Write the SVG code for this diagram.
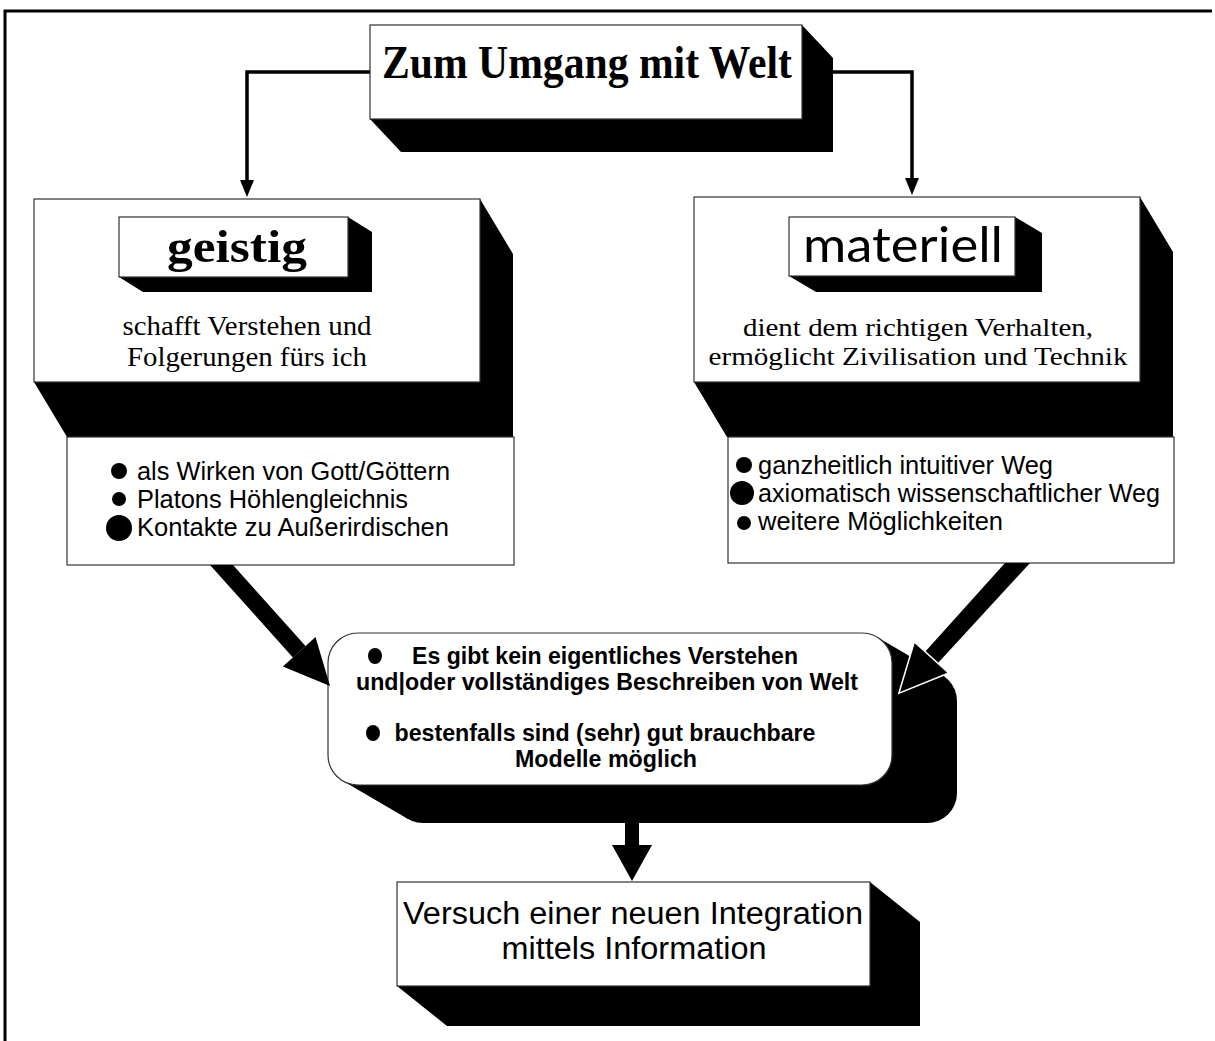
<svg xmlns="http://www.w3.org/2000/svg" width="1215" height="1041" viewBox="0 0 1215 1041">
<style>
.box{fill:#fff;stroke:#333;stroke-width:1.2}
.sh{fill:#000}
.serif{font-family:"Liberation Serif","Times New Roman",serif;fill:#000}
.sans{font-family:"Liberation Sans",Arial,sans-serif;fill:#000}
.bold{font-weight:bold}
.line{fill:none;stroke:#000;stroke-width:3.5}
.arr{fill:#000}
</style>
<rect width="1215" height="1041" fill="#fff"/>
<g id="frame">
<path d="M5 1041 V11 H1212" fill="none" stroke="#000" stroke-width="3"/>
</g>
<g id="title">
<polygon class="sh" points="802,25 833,58 833,152 401,152 370,119"/>
<rect class="box" x="370" y="25" width="432" height="94"/>
<text class="serif bold" x="382" y="78" font-size="46" textLength="410" lengthAdjust="spacingAndGlyphs">Zum Umgang mit Welt</text>
</g>
<g id="geistig">
<polygon class="sh" points="480,199 513,254 513,437 67,437 34,382"/>
<rect class="box" x="34" y="199" width="446" height="183"/>
<polygon class="sh" points="348,217 372,232 372,292 143,292 119,277"/>
<rect class="box" x="119" y="217" width="229" height="60"/>
<text class="serif bold" x="237" y="262" font-size="46" text-anchor="middle" textLength="140" lengthAdjust="spacingAndGlyphs">geistig</text>
<text class="serif" x="247" y="335" font-size="27" text-anchor="middle" textLength="249" lengthAdjust="spacingAndGlyphs">schafft Verstehen und</text>
<text class="serif" x="247" y="366" font-size="27" text-anchor="middle" textLength="240" lengthAdjust="spacingAndGlyphs">Folgerungen fürs ich</text>
</g>
<g id="geistig-list">
<rect class="box" x="67" y="437" width="447" height="128"/>
<circle cx="119" cy="471" r="8"/>
<circle cx="119" cy="499" r="7"/>
<circle cx="119" cy="528" r="13"/>
<text class="sans" x="137" y="480" font-size="25" textLength="313" lengthAdjust="spacingAndGlyphs">als Wirken von Gott/Göttern</text>
<text class="sans" x="137" y="508" font-size="25" textLength="271" lengthAdjust="spacingAndGlyphs">Platons Höhlengleichnis</text>
<text class="sans" x="137" y="536" font-size="25" textLength="312" lengthAdjust="spacingAndGlyphs">Kontakte zu Außerirdischen</text>
</g>
<g id="materiell">
<polygon class="sh" points="1140,197 1173,252 1173,437 727,437 694,382"/>
<rect class="box" x="694" y="197" width="446" height="185"/>
<polygon class="sh" points="1015,217 1042,233 1042,292 816,292 789,276"/>
<rect class="box" x="789" y="217" width="226" height="59"/>
<text x="903" y="262" font-family="Lato,'Liberation Sans',sans-serif" font-size="48" text-anchor="middle" textLength="200" lengthAdjust="spacingAndGlyphs">materiell</text>
<text class="serif" x="918" y="336" font-size="26" text-anchor="middle" textLength="350" lengthAdjust="spacingAndGlyphs">dient dem richtigen Verhalten,</text>
<text class="serif" x="918" y="365" font-size="26" text-anchor="middle" textLength="419" lengthAdjust="spacingAndGlyphs">ermöglicht Zivilisation und Technik</text>
</g>
<g id="materiell-list">
<rect class="box" x="728" y="437" width="446" height="126"/>
<circle cx="744" cy="465" r="8"/>
<circle cx="742" cy="493" r="12"/>
<circle cx="744" cy="523" r="7"/>
<text class="sans" x="758" y="474" font-size="25" textLength="295" lengthAdjust="spacingAndGlyphs">ganzheitlich intuitiver Weg</text>
<text class="sans" x="758" y="502" font-size="25" textLength="402" lengthAdjust="spacingAndGlyphs">axiomatisch wissenschaftlicher Weg</text>
<text class="sans" x="758" y="530" font-size="25" textLength="245" lengthAdjust="spacingAndGlyphs">weitere Möglichkeiten</text>
</g>
<g id="fazit">
<rect class="sh" x="393" y="671" width="564" height="152" rx="30"/>
<polygon class="sh" points="877,637 942,675 408,819 343,781"/>
<rect class="box" x="328" y="633" width="564" height="152" rx="30"/>
<ellipse cx="375" cy="656" rx="7" ry="8"/>
<ellipse cx="373" cy="733" rx="7" ry="8"/>
<text class="sans bold" x="605" y="664" font-size="23" text-anchor="middle" textLength="386" lengthAdjust="spacingAndGlyphs">Es gibt kein eigentliches Verstehen</text>
<text class="sans bold" x="607" y="690" font-size="23" text-anchor="middle" textLength="502" lengthAdjust="spacingAndGlyphs">und|oder vollständiges Beschreiben von Welt</text>
<text class="sans bold" x="605" y="741" font-size="23" text-anchor="middle" textLength="421" lengthAdjust="spacingAndGlyphs">bestenfalls sind (sehr) gut brauchbare</text>
<text class="sans bold" x="606" y="767" font-size="23" text-anchor="middle" textLength="182" lengthAdjust="spacingAndGlyphs">Modelle möglich</text>
</g>
<g id="integration">
<polygon class="sh" points="870,882 920,922 920,1026 447,1026 397,986"/>
<rect class="box" x="397" y="882" width="473" height="104"/>
<text class="sans" x="633" y="924" font-size="31" text-anchor="middle" textLength="460" lengthAdjust="spacingAndGlyphs">Versuch einer neuen Integration</text>
<text class="sans" x="634" y="959" font-size="31" text-anchor="middle" textLength="265" lengthAdjust="spacingAndGlyphs">mittels Information</text>
</g>
<g id="connectors">
<polyline class="line" points="370,72 247,72 247,182"/>
<polygon class="arr" points="240,180 254,180 247,197"/>
<polyline class="line" points="833,72 912,72 912,180"/>
<polygon class="arr" points="905,178 919,178 912,195"/>
<polygon class="arr" points="210,565 233,565 305.5,646.1 292.9,657.5"/>
<polygon class="arr" points="315.5,637.1 330,686 282.9,666.5"/>
<polygon class="arr" points="1005,563 1030,563 937.3,663.7 924.7,652.3"/>
<polygon class="arr" points="947.3,672.8 900,692 914.7,643.2" stroke="#fff" stroke-width="3" stroke-linejoin="miter" paint-order="stroke"/>
<rect class="arr" x="625" y="823" width="14" height="24"/>
<polygon class="arr" points="612,845 652,845 632,881"/>
</g>
</svg>
